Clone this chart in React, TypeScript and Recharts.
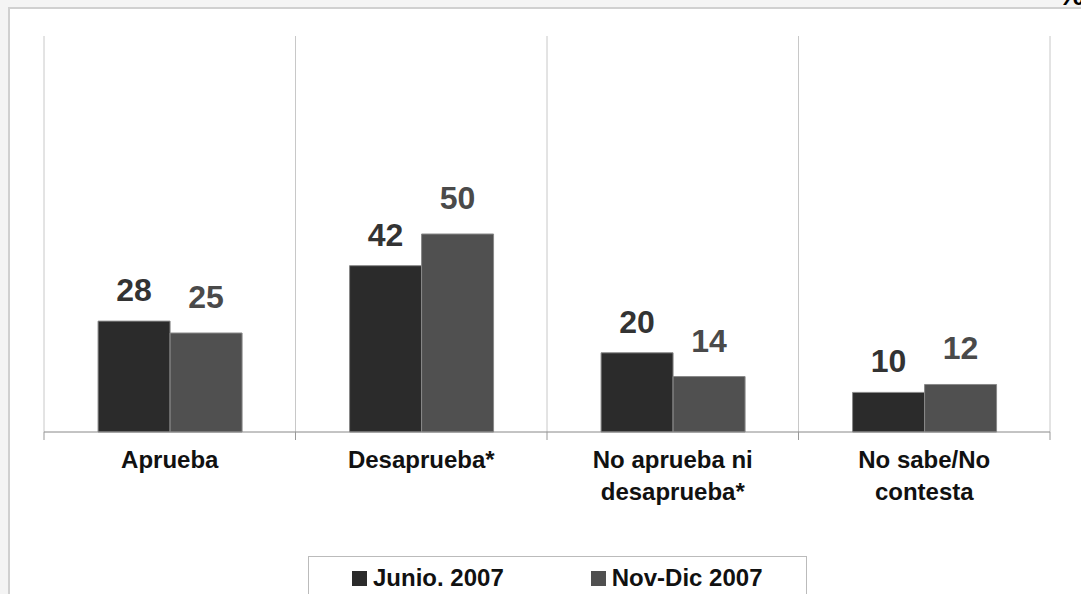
import React from "react";
import { Bar, BarChart, CartesianGrid, LabelList, XAxis, YAxis } from "recharts";

// categorías y series
const categories = ["Aprueba", "Desaprueba*", "No aprueba ni\ndesaprueba*", "No sabe/No\ncontesta"];
const junio2007 = [28, 42, 20, 10];
const novDic2007 = [25, 50, 14, 12];
const seriesNames = ["Junio. 2007", "Nov-Dic 2007"];

const data = categories.map((cat, i) => ({ cat, junio: junio2007[i], novdic: novDic2007[i] }));

const W = 1081;
const H = 594;
const AXIS_H = 30;
const M = { top: 36, right: 31, left: 44, bottom: 162 - AXIS_H };
const FONT = '"Liberation Sans", Arial, sans-serif';
const DARK = "#2b2b2b";
const LIGHT = "#505050";

const plotW = W - M.left - M.right;
const band = plotW / categories.length;

const CategoryTick = ({ x, y, payload, index }: { x: number; y: number; payload: { value: string }; index: number }) => {
  const lines = String(payload.value).split("\n");
  const left = x - band / 2;
  return (
    <g>
      <line x1={left} x2={left} y1={y - 8} y2={y} stroke="#999" />
      {index === categories.length - 1 && <line x1={left + band} x2={left + band} y1={y - 8} y2={y} stroke="#999" />}
      <text x={x} y={y + 28} textAnchor="middle" fontFamily={FONT} fontWeight="bold" fontSize={24} fill="#111">
        {lines.map((l, i) => (
          <tspan key={i} x={x} dy={i === 0 ? 0 : 32}>
            {l}
          </tspan>
        ))}
      </text>
    </g>
  );
};

const LegendBox = () => (
  <div
    style={{
      position: "absolute",
      left: 308,
      top: 556,
      width: 499,
      height: 60,
      border: "1px solid #bbb",
      background: "#fff",
      display: "flex",
      fontFamily: FONT,
      fontWeight: "bold",
      fontSize: 24,
      color: "#111",
      paddingTop: 7,
      boxSizing: "border-box",
    }}
  >
    {seriesNames.map((name, i) => (
      <div key={i} style={{ display: "flex", alignItems: "center", height: 28, marginLeft: i === 0 ? 43 : 87 }}>
        <span style={{ display: "inline-block", width: 15, height: 15, background: i === 0 ? DARK : LIGHT, marginRight: 6 }} />
        {name}
      </div>
    ))}
  </div>
);

export default function App() {
  return (
    <div style={{ position: "absolute", left: 0, top: 0, width: W, height: H, overflow: "hidden", background: "#f4f4f4" }}>
      <div
        style={{
          position: "absolute",
          left: 8,
          top: 7,
          width: W,
          height: H,
          background: "#fff",
          borderLeft: "2px solid #d0d0d0",
          borderTop: "2px solid #d0d0d0",
        }}
      />
      <div style={{ position: "absolute", left: 1058, top: -22, fontFamily: FONT, fontWeight: "bold", fontSize: 30 }}>%</div>
      <div style={{ position: "absolute", left: 0, top: 0 }}>
        <BarChart width={W} height={H} data={data} margin={M} barCategoryGap="21.5%" barGap={0}>
          <CartesianGrid
            horizontal={false}
            stroke="#c8c8c8"
            verticalCoordinatesGenerator={({ offset }: any) =>
              categories.map((_, i) => offset.left + (i * offset.width) / categories.length).concat(offset.left + offset.width)
            }
          />
          <XAxis
            dataKey="cat"
            height={AXIS_H}
            axisLine={{ stroke: "#888" }}
            tickLine={false}
            interval={0}
            tick={(props: any) => <CategoryTick {...props} />}
          />
          <YAxis hide domain={[0, 100]} />
          <Bar dataKey="junio" name={seriesNames[0]} fill={DARK} stroke="#888" strokeWidth={1} isAnimationActive={false}>
            <LabelList dataKey="junio" position="top" offset={20} fill="#333" fontFamily={FONT} fontWeight="bold" fontSize={32} />
          </Bar>
          <Bar dataKey="novdic" name={seriesNames[1]} fill={LIGHT} stroke="#888" strokeWidth={1} isAnimationActive={false}>
            <LabelList dataKey="novdic" position="top" offset={25} fill="#4a4a4a" fontFamily={FONT} fontWeight="bold" fontSize={32} />
          </Bar>
        </BarChart>
      </div>
      <LegendBox />
    </div>
  );
}
